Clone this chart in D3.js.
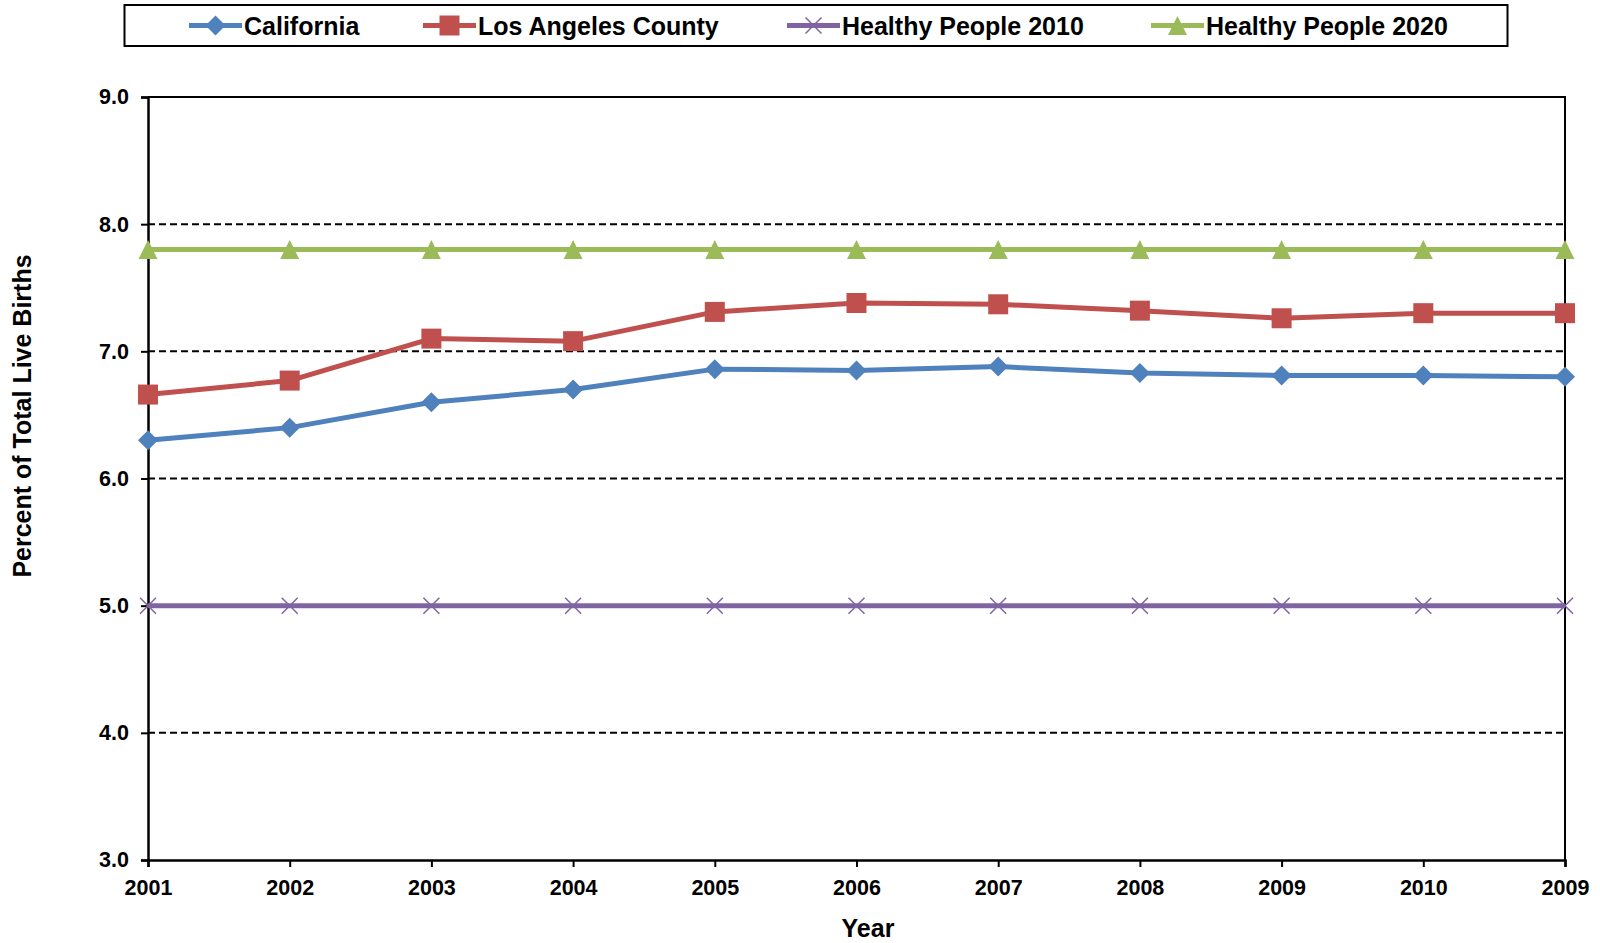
<!DOCTYPE html>
<html>
<head>
<meta charset="utf-8">
<script src="https://cdn.jsdelivr.net/npm/d3@7"></script>
<style>
  body { margin: 0; background: #fff; }
  svg { display: block; font-family: "Liberation Sans", Arial, sans-serif; font-weight: bold; }
</style>
</head>
<body>
<svg id="chart"></svg>
<script>
const width = 1600;
const height = 943;

// data ///////////////////////////
const years = ['2001','2002','2003','2004','2005','2006','2007','2008','2009','2010','2009'];
const california = [6.30, 6.40, 6.60, 6.70, 6.86, 6.85, 6.88, 6.83, 6.81, 6.81, 6.80];
const losAngeles = [6.66, 6.77, 7.10, 7.08, 7.31, 7.38, 7.37, 7.32, 7.26, 7.30, 7.30];
const hp2010 = [5.0, 5.0, 5.0, 5.0, 5.0, 5.0, 5.0, 5.0, 5.0, 5.0, 5.0];
const hp2020 = [7.8, 7.8, 7.8, 7.8, 7.8, 7.8, 7.8, 7.8, 7.8, 7.8, 7.8];
const yTicks = [3, 4, 5, 6, 7, 8, 9];

const series = [
  {name:'California', values:california, color:'#4F81BD', marker:'diamond'},
  {name:'Los Angeles County', values:losAngeles, color:'#C0504D', marker:'square'},
  {name:'Healthy People 2010', values:hp2010, color:'#8064A2', marker:'x'},
  {name:'Healthy People 2020', values:hp2020, color:'#9BBB59', marker:'triangle'}
];

const plot = {left:148, right:1565, top:97, bottom:860};

const svg = d3.select('#chart')
  .attr('width', width)
  .attr('height', height);

const x = d3.scalePoint()
  .domain(d3.range(years.length))
  .range([plot.left, plot.right]);

const y = d3.scaleLinear()
  .domain([3, 9])
  .range([plot.bottom, plot.top]);

// grid lines //////////////////////
svg.append('g')
  .selectAll('line')
  .data(yTicks.filter(d => d > 3 && d < 9))
  .enter()
  .append('line')
  .attr('x1', plot.left)
  .attr('x2', plot.right)
  .attr('y1', d => y(d))
  .attr('y2', d => y(d))
  .attr('stroke', 'black')
  .attr('stroke-width', 2)
  .attr('stroke-dasharray', '7,4');

// frame top + right
svg.append('path')
  .attr('d', `M${plot.left},${plot.top}H${plot.right}V${plot.bottom}`)
  .attr('fill', 'none')
  .attr('stroke', 'black')
  .attr('stroke-width', 2);

// axes ///////////////////////////
const yAxis = svg.append('g')
  .attr('transform', `translate(${plot.left},0)`)
  .call(d3.axisLeft(y).tickValues(yTicks).tickFormat(d3.format('.1f')).tickSize(7).tickPadding(12));

const xAxis = svg.append('g')
  .attr('transform', `translate(0,${plot.bottom})`)
  .call(d3.axisBottom(x).tickFormat(i => years[i]).tickSize(7).tickPadding(13));

[yAxis, xAxis].forEach(g => {
  g.select('.domain').attr('stroke', 'black').attr('stroke-width', 2.5);
  g.selectAll('.tick line').attr('stroke', 'black').attr('stroke-width', 2);
  g.selectAll('.tick text')
    .attr('fill', 'black')
    .attr('font-size', '21.5px')
    .attr('font-weight', 'bold')
    .attr('font-family', '"Liberation Sans", Arial, sans-serif');
});

// axis titles
svg.append('text')
  .text('Year')
  .attr('x', 868)
  .attr('y', 937)
  .attr('text-anchor', 'middle')
  .attr('font-size', '25px');

svg.append('text')
  .text('Percent of Total Live Births')
  .attr('transform', 'translate(31,416) rotate(-90)')
  .attr('text-anchor', 'middle')
  .attr('font-size', '25px');

// markers ////////////////////////
function drawMarker(g, type, color, cx, cy) {
  if (type === 'diamond') {
    const s = 10;
    g.append('path')
      .attr('d', `M${cx},${cy-s}L${cx+s},${cy}L${cx},${cy+s}L${cx-s},${cy}Z`)
      .attr('fill', color);
  } else if (type === 'square') {
    const s = 10;
    g.append('rect')
      .attr('x', cx - s).attr('y', cy - s)
      .attr('width', 2*s).attr('height', 2*s)
      .attr('fill', color);
  } else if (type === 'triangle') {
    const s = 9.5;
    g.append('path')
      .attr('d', `M${cx},${cy-s}L${cx+s},${cy+s}L${cx-s},${cy+s}Z`)
      .attr('fill', color);
  } else if (type === 'x') {
    const s = 8;
    g.append('path')
      .attr('d', `M${cx-s},${cy-s}L${cx+s},${cy+s}M${cx-s},${cy+s}L${cx+s},${cy-s}`)
      .attr('stroke', color)
      .attr('stroke-width', 1.5)
      .attr('fill', 'none');
  }
}

// lines //////////////////////////
const line = d3.line()
  .x((d, i) => x(i))
  .y(d => y(d));

series.forEach(s => {
  const g = svg.append('g');
  g.append('path')
    .datum(s.values)
    .attr('d', line)
    .attr('fill', 'none')
    .attr('stroke', s.color)
    .attr('stroke-width', 5)
    .attr('stroke-linejoin', 'round');
  s.values.forEach((v, i) => drawMarker(g, s.marker, s.color, x(i), y(v)));
});

// legend /////////////////////////
svg.append('rect')
  .attr('x', 124.5)
  .attr('y', 5)
  .attr('width', 1383)
  .attr('height', 41)
  .attr('fill', 'white')
  .attr('stroke', 'black')
  .attr('stroke-width', 2);

const legendX = [189, 423, 787, 1151];
series.forEach((s, i) => {
  const g = svg.append('g');
  const lx = legendX[i];
  const ly = 25.5;
  g.append('line')
    .attr('x1', lx).attr('x2', lx + 53)
    .attr('y1', ly).attr('y2', ly)
    .attr('stroke', s.color)
    .attr('stroke-width', 5);
  drawMarker(g, s.marker, s.color, lx + 26.5, ly);
  g.append('text')
    .text(s.name)
    .attr('x', lx + 55)
    .attr('y', ly + 9)
    .attr('font-size', '25px');
});
</script>
</body>
</html>
